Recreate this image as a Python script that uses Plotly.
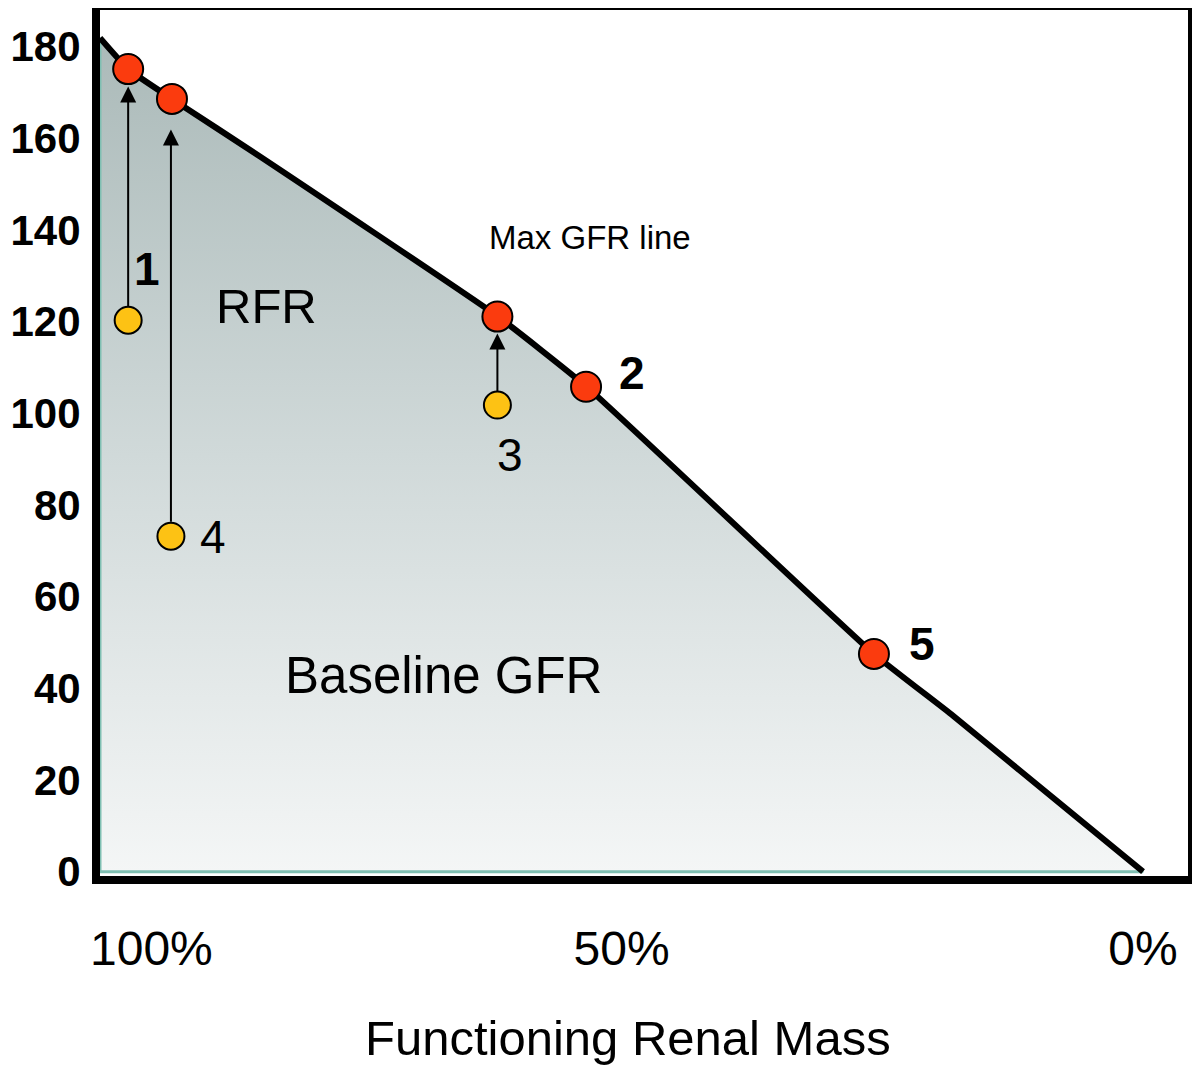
import plotly.graph_objects as go

# Max GFR line (functioning renal mass %, GFR)
line_mass = [100, 97.3, 93.1, 84.7, 61.9, 53.4, 25.8, 18.2, 0]
line_gfr = [181.9, 175.1, 168.6, 156.1, 121.2, 105.9, 47.5, 34.0, 0]

# Maximal GFR points (red) and baseline points (yellow)
max_mass = [97.3, 93.1, 61.9, 53.4, 25.8]
max_gfr = [175.1, 168.6, 121.1, 105.8, 47.5]
base_mass = [97.3, 93.2, 61.9]
base_gfr = [120.3, 73.2, 101.8]

# arrows: (mass, from_gfr, to_gfr)
arrow_mass = [97.3, 93.2, 61.9]
arrow_from = [123.0, 76.0, 104.4]
arrow_to = [171.3, 161.9, 117.4]

# number labels
num_text = ["1", "2", "3", "4", "5"]
num_bold = ["bold", "bold", "normal", "normal", "bold"]
num_mass = [95.5, 49.0, 60.7, 89.2, 21.2]
num_gfr = [131.5, 108.8, 90.9, 73.0, 49.6]

y_ticks = [0, 20, 40, 60, 80, 100, 120, 140, 160, 180]

FONT = "Liberation Sans, Arial, sans-serif"

fig = go.Figure()

# shaded area under max GFR line
fig.add_trace(go.Scatter(
    x=line_mass + [0, 100, 100],
    y=line_gfr + [0, 0, line_gfr[0]],
    mode="lines",
    fill="toself",
    fillgradient=dict(type="vertical",
                      colorscale=[[0, "#f4f6f6"], [0.5, "#d0d9d9"], [1, "#abbab9"]]),
    line=dict(color="#7fbfb2", width=3),
    hoverinfo="skip",
    showlegend=False,
))

# black max GFR line
fig.add_trace(go.Scatter(
    x=line_mass, y=line_gfr, mode="lines",
    line=dict(color="black", width=6, shape="spline", smoothing=0.4),
    showlegend=False,
))

# baseline points
fig.add_trace(go.Scatter(
    x=base_mass, y=base_gfr, mode="markers",
    marker=dict(size=27, color="#fdc214", line=dict(color="black", width=2)),
    showlegend=False,
))

# max points
fig.add_trace(go.Scatter(
    x=max_mass, y=max_gfr, mode="markers",
    marker=dict(size=30, color="#fb3b0e", line=dict(color="black", width=2)),
    showlegend=False,
))

annotations = []
for m, f, t in zip(arrow_mass, arrow_from, arrow_to):
    annotations.append(dict(
        x=m, y=t, ax=m, ay=f, xref="x", yref="y", axref="x", ayref="y",
        text="", showarrow=True, arrowhead=2, arrowsize=1.6, arrowwidth=2,
        arrowcolor="black",
    ))

for s, w, m, g in zip(num_text, num_bold, num_mass, num_gfr):
    annotations.append(dict(x=m, y=g, xref="x", yref="y", text=s, showarrow=False,
                            font=dict(family=FONT, size=46, color="black", weight=w)))

annotations += [
    dict(x=53.0, y=138.4, xref="x", yref="y", text="Max GFR line", showarrow=False,
         font=dict(family=FONT, size=33, color="black")),
    dict(x=84.0, y=123.4, xref="x", yref="y", text="RFR", showarrow=False,
         font=dict(family=FONT, size=49, color="black")),
    dict(x=67.1, y=42.9, xref="x", yref="y", text="Baseline GFR", showarrow=False,
         font=dict(family=FONT, size=51, color="black")),
    dict(x=100, y=0, xref="x", yref="paper", text="100%", showarrow=False,
         xanchor="left", yanchor="top", xshift=-12, yshift=-44,
         font=dict(family=FONT, size=48, color="black")),
    dict(x=0.485, y=0, xref="paper", yref="paper", text="Functioning Renal Mass",
         showarrow=False, xanchor="center", yanchor="middle", yshift=-162,
         font=dict(family=FONT, size=49, color="black")),
]

fig.update_layout(
    width=1200, height=1069,
    margin=dict(l=92, r=20, t=2, b=201),
    plot_bgcolor="white", paper_bgcolor="white",
    annotations=annotations,
    xaxis=dict(
        range=[100, -4.31], tickvals=[50, 0], ticktext=["50%", "0%"],
        showgrid=False, zeroline=False, showline=True, linewidth=8,
        linecolor="black", mirror=True, ticks="", automargin=False,
        tickfont=dict(family=FONT, size=48, color="black"),
        ticklabelstandoff=23,
    ),
    yaxis=dict(
        range=[-0.95, 188.0], tickvals=y_ticks,
        showgrid=False, zeroline=False, showline=True, linewidth=8,
        linecolor="black", mirror=True, ticks="", automargin=False,
        tickfont=dict(family=FONT, size=42, color="black", weight="bold"),
        ticklabelstandoff=3,
    ),
)

fig.write_html("out.html")
